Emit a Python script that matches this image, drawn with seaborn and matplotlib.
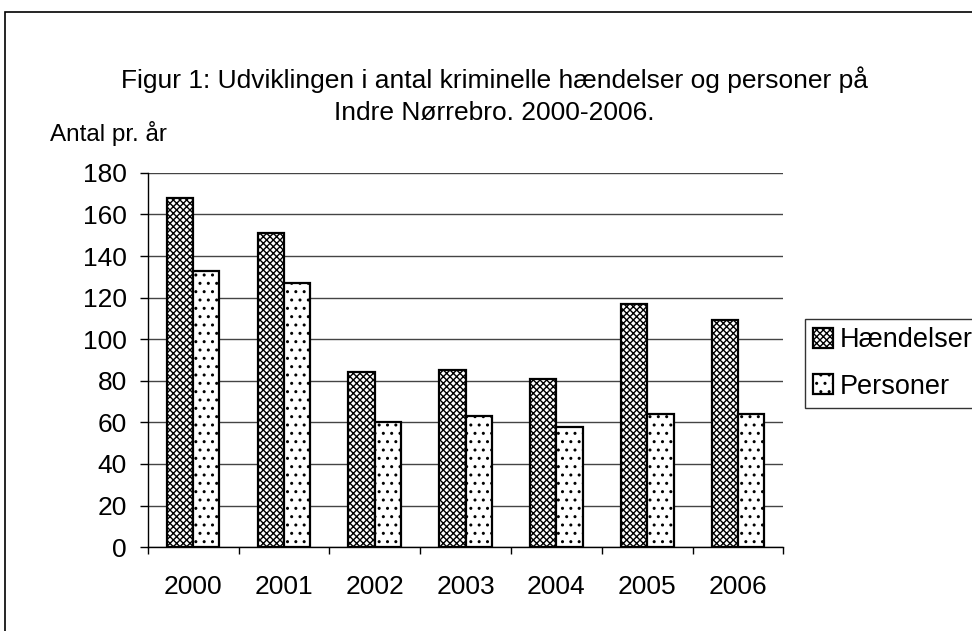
import pandas as pd
import matplotlib
matplotlib.use("Agg")
import matplotlib.pyplot as plt
import seaborn as sns
from matplotlib.patches import Rectangle

years = ["2000", "2001", "2002", "2003", "2004", "2005", "2006"]
haendelser = [168, 151, 84, 85, 81, 117, 109]
personer = [133, 127, 60, 63, 58, 64, 64]
series_names = ["Hændelser", "Personer"]
y_ticks = [0, 20, 40, 60, 80, 100, 120, 140, 160, 180]

df = pd.DataFrame({
    "År": years * 2,
    "Antal": haendelser + personer,
    "Serie": [series_names[0]] * len(years) + [series_names[1]] * len(years),
})

sns.set_theme(style="white")
plt.rcParams["font.family"] = ["Liberation Sans", "DejaVu Sans"]
plt.rcParams["hatch.linewidth"] = 1.0
plt.rcParams["text.color"] = "black"
plt.rcParams["xtick.color"] = "black"
plt.rcParams["ytick.color"] = "black"

fig = plt.figure(figsize=(9.72, 6.31), dpi=100)
ax = fig.add_axes([0.152, 0.133, 0.654, 0.593])

sns.barplot(data=df, x="År", y="Antal", hue="Serie", order=years,
            hue_order=series_names, width=0.58, gap=0, ax=ax,
            palette=["white", "white"], edgecolor="black", linewidth=1.6,
            saturation=1, legend=False)

# mønstre i stedet for farver, som i originalen
hatches = ["xxxxx", ".."]
for cont, h in zip(ax.containers, hatches):
    for bar in cont:
        bar.set_hatch(h)
        bar.set_edgecolor("black")

ax.set_ylim(0, 180)
ax.set_xlim(-0.5, len(years) - 0.5)
ax.set_yticks(y_ticks)
ax.yaxis.grid(True, color="#444444", linewidth=1.0)
ax.set_axisbelow(True)
for s in ["top", "right"]:
    ax.spines[s].set_visible(False)
for s in ["left", "bottom"]:
    ax.spines[s].set_color("black")
    ax.spines[s].set_linewidth(1.0)

ax.set_xticks(range(len(years)))
ax.set_xticklabels(years)
ax.set_xticks([i - 0.5 for i in range(len(years) + 1)], minor=True)
ax.tick_params(axis="x", which="major", length=0, pad=20, labelsize=19, labelcolor="black")
ax.tick_params(axis="x", which="minor", length=5, width=1, color="black", bottom=True)
ax.tick_params(axis="y", length=6, width=1, color="black", left=True, labelsize=19, pad=9,
               labelcolor="black")
ax.set_xlabel("")
ax.set_ylabel("")

fig.text(0.051, 0.789, "Antal pr. år", fontsize=17.5, ha="left", va="center", color="black")
fig.text(0.509, 0.848, "Figur 1: Udviklingen i antal kriminelle hændelser og personer på\nIndre Nørrebro. 2000-2006.",
         fontsize=19, ha="center", va="center", linespacing=1.42, color="black")

handles = [ax.containers[0].patches[0], ax.containers[1].patches[0]]
leg = ax.legend(handles, series_names, loc="upper left", bbox_to_anchor=(0.828, 0.494),
                bbox_transform=fig.transFigure, frameon=True, fontsize=19.5,
                handlelength=0.75, handleheight=0.75, handletextpad=0.25,
                borderpad=0.3, borderaxespad=0, labelspacing=0.75, fancybox=False)
leg.get_frame().set_edgecolor("black")
leg.get_frame().set_linewidth(1.0)
for t in leg.get_texts():
    t.set_color("black")

fig.add_artist(Rectangle((0.005, -0.1), 1.2, 1.081, transform=fig.transFigure,
                         fill=False, edgecolor="black", linewidth=1.2))

fig.savefig("out.png", dpi=100)
